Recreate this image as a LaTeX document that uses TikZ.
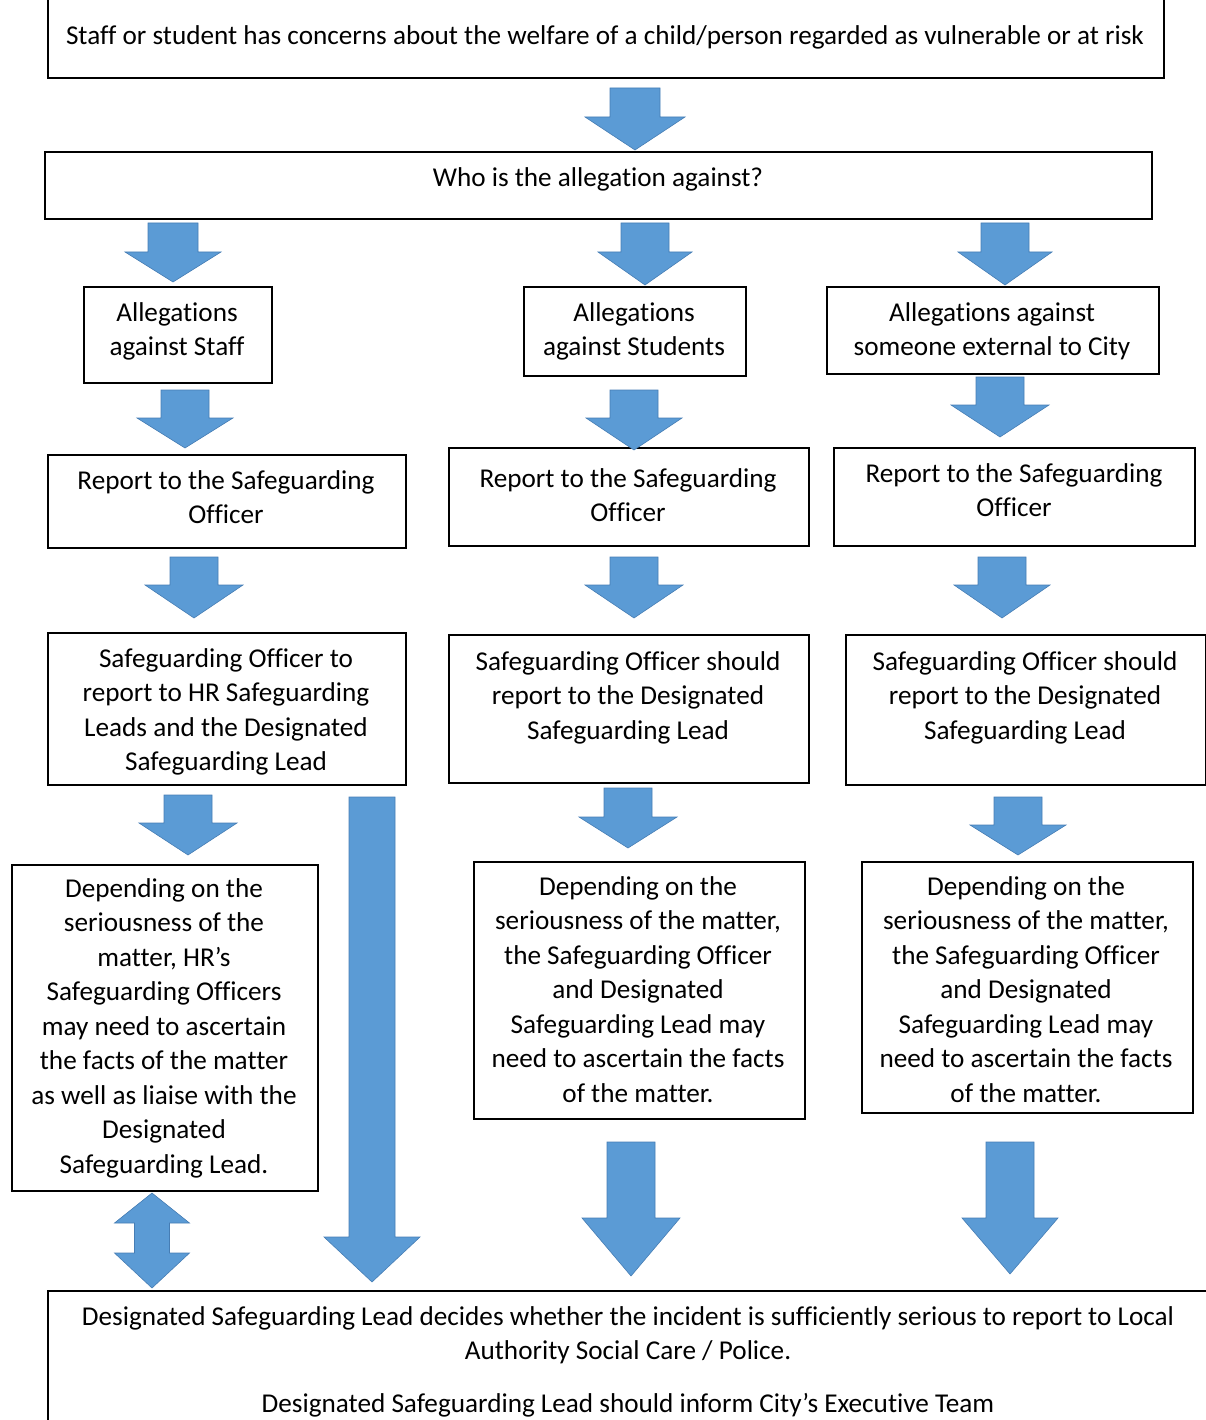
\documentclass[tikz,border=0pt]{standalone}
\usepackage{fontspec}
\setmainfont{Carlito}[Ligatures=NoCommon]
\definecolor{arrfill}{RGB}{91,155,213}
\definecolor{arrline}{RGB}{70,125,180}
\tikzset{
  box/.style={draw=black, line width=1.6pt, rectangle, inner sep=0, anchor=north west},
  tx/.style={font=\fontsize{27.2}{34.5}\selectfont, align=center, inner sep=0, anchor=north, execute at begin node=\strut},
  arr/.style={fill=arrfill, draw=arrline, line width=0.6pt, line join=miter}
}
% cx, top, head start, tip, shaft half width, head half width
\newcommand\blkarrow[6]{%
  \path[arr] ({#1-#5},#2) -- ({#1+#5},#2) -- ({#1+#5},#3) -- ({#1+#6},#3) -- (#1,#4) -- ({#1-#6},#3) -- ({#1-#5},#3) -- cycle;}
\begin{document}
\begin{tikzpicture}[x=1pt,y=-1pt]
\useasboundingbox (0,0) rectangle (1206,1420);
% boxes
\node[box, minimum width=1116, minimum height=80] (b1) at (47,-3) {};
\node[box, minimum width=1107, minimum height=67] (b2) at (44,151) {};
\node[box, minimum width=188, minimum height=96] (b3a) at (83,286) {};
\node[box, minimum width=222, minimum height=89] (b3b) at (523,286) {};
\node[box, minimum width=332, minimum height=87] (b3c) at (826,286) {};
\node[box, minimum width=358, minimum height=93] (b4a) at (47,454) {};
\node[box, minimum width=360, minimum height=98] (b4b) at (448,447) {};
\node[box, minimum width=361, minimum height=98] (b4c) at (833,447) {};
\node[box, minimum width=358, minimum height=152] (b5a) at (47,632) {};
\node[box, minimum width=360, minimum height=148] (b5b) at (448,634) {};
\node[box, minimum width=360, minimum height=150] (b5c) at (845,634) {};
\node[box, minimum width=306, minimum height=326] (b6a) at (11,864) {};
\node[box, minimum width=331, minimum height=257] (b6b) at (473,861) {};
\node[box, minimum width=331, minimum height=251] (b6c) at (861,861) {};
\node[box, minimum width=1163, minimum height=140] (b7) at (47,1290) {};
% texts
\node[tx] (t1) at (605,20.5) {Staff or student has concerns about the welfare of a child/person regarded as vulnerable or at risk};
\node[tx] (t2) at (598,162.5) {Who is the allegation against?};
\node[tx] (t3a) at (177,302) {Allegations\\against Staff};
\node[tx] (t3b) at (634,302) {Allegations\\against Students};
\node[tx] (t3c) at (992,302) {Allegations against\\someone external to City};
\node[tx] (t4a) at (226,470) {Report to the Safeguarding\\Officer};
\node[tx] (t4b) at (628,468) {Report to the Safeguarding\\Officer};
\node[tx] (t4c) at (1014,463) {Report to the Safeguarding\\Officer};
\node[tx] (t5a) at (226,648) {Safeguarding Officer to\\report to HR Safeguarding\\Leads and the Designated\\Safeguarding Lead};
\node[tx] (t5b) at (628,651) {Safeguarding Officer should\\report to the Designated\\Safeguarding Lead};
\node[tx] (t5c) at (1025,651) {Safeguarding Officer should\\report to the Designated\\Safeguarding Lead};
\node[tx] (t6a) at (164,878) {Depending on the\\seriousness of the\\matter, HR’s\\Safeguarding Officers\\may need to ascertain\\the facts of the matter\\as well as liaise with the\\Designated\\Safeguarding Lead.};
\node[tx] (t6b) at (638,876) {Depending on the\\seriousness of the matter,\\the Safeguarding Officer\\and Designated\\Safeguarding Lead may\\need to ascertain the facts\\of the matter.};
\node[tx] (t6c) at (1026,876) {Depending on the\\seriousness of the matter,\\the Safeguarding Officer\\and Designated\\Safeguarding Lead may\\need to ascertain the facts\\of the matter.};
\node[tx] (t7) at (628,1306) {Designated Safeguarding Lead decides whether the incident is sufficiently serious to report to Local\\Authority Social Care / Police.\\[18pt]Designated Safeguarding Lead should inform City’s Executive Team};
% block arrows
\blkarrow{635}{88}{117}{150}{25}{50}
\blkarrow{173}{223}{252}{282}{25}{48}
\blkarrow{645}{223}{252}{285}{24}{47}
\blkarrow{1005}{223}{252}{285}{24}{47}
\blkarrow{185}{390}{418}{448}{24}{48}
\blkarrow{634}{390}{418}{450}{24}{48}
\blkarrow{1000}{377}{405}{437}{24}{49}
\blkarrow{194}{557}{585}{618}{24}{49}
\blkarrow{634}{557}{585}{618}{24}{49}
\blkarrow{1002}{557}{585}{618}{24}{48}
\blkarrow{188}{795}{823}{855}{24}{49}
\blkarrow{628}{788}{817}{848}{24}{49}
\blkarrow{1018}{797}{825}{855}{24}{48}
\blkarrow{372}{797}{1237}{1282}{23}{48}
\blkarrow{631}{1142}{1218}{1276}{24}{49}
\blkarrow{1010}{1142}{1218}{1274}{24}{48}
% double arrow
\path[arr] (152,1193) -- (189.5,1223) -- (169.5,1223) -- (169.5,1253) -- (189.5,1253) -- (152,1288) -- (114.5,1253) -- (134.5,1253) -- (134.5,1223) -- (114.5,1223) -- cycle;
\end{tikzpicture}
\end{document}
